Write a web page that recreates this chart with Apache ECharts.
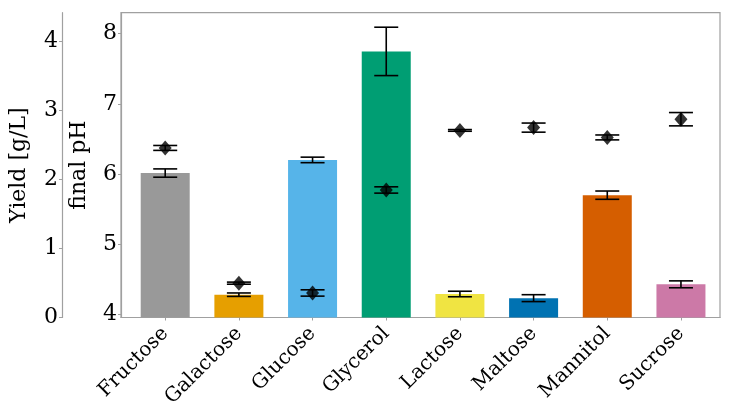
<!DOCTYPE html>
<html><head><meta charset="utf-8">
<script src="https://cdn.jsdelivr.net/npm/echarts@6/dist/echarts.min.js"></script>
<style>html,body{margin:0;padding:0;background:#fff}#c{width:731px;height:420px}</style>
</head><body><div id="c"></div>
<script>
var categories = ['Fructose','Galactose','Glucose','Glycerol','Lactose','Maltose','Mannitol','Sucrose'];
var barColors = ['#999999','#E69F00','#56B4E9','#009E73','#F0E442','#0072B2','#D55E00','#CC79A7'];
var yieldMean = [2.09, 0.33, 2.28, 3.85, 0.34, 0.28, 1.77, 0.48];
var yieldErr  = [0.06, 0.025, 0.04, 0.35, 0.04, 0.05, 0.06, 0.05];
var phMean = [6.37, 4.44, 4.30, 5.77, 6.62, 6.66, 6.52, 6.78];
var phErr  = [0.035, 0.015, 0.045, 0.045, 0.012, 0.065, 0.035, 0.095];
var yieldTicks = [0, 1, 2, 3, 4];
var phTicks = [4, 5, 6, 7, 8];

var FONT = 'DejaVu Serif';
var chart = echarts.init(document.getElementById('c'));

var pos = categories.map(function(c, i){ return i + 1; });
var barData = yieldMean.map(function(v, i){ return {value:[pos[i], v], itemStyle:{color:barColors[i]}}; });
var barErrData = yieldMean.map(function(v, i){ return [pos[i], v - yieldErr[i], v + yieldErr[i]]; });
var phData = phMean.map(function(v, i){ return [pos[i], v]; });
var phErrData = phMean.map(function(v, i){ return [pos[i], v - phErr[i], v + phErr[i]]; });

function errRender(params, api){
  var x = api.value(0), lo = api.value(1), hi = api.value(2);
  var pLo = api.coord([x, lo]), pHi = api.coord([x, hi]);
  var hw = 12;
  var st = {stroke:'#000', lineWidth:1.6};
  return {type:'group', children:[
    {type:'line', shape:{x1:pLo[0], y1:pLo[1], x2:pHi[0], y2:pHi[1]}, style:st},
    {type:'line', shape:{x1:pLo[0]-hw, y1:pLo[1], x2:pLo[0]+hw, y2:pLo[1]}, style:st},
    {type:'line', shape:{x1:pHi[0]-hw, y1:pHi[1], x2:pHi[0]+hw, y2:pHi[1]}, style:st}
  ]};
}

var axisGray = '#a0a0a0';
chart.setOption({
  animation:false,
  grid:{left:119, right:11, top:12.7, bottom:102.5, show:true, borderColor:axisGray, borderWidth:1.2, containLabel:false},
  xAxis:{type:'value', min:0.4, max:8.53,
    axisLine:{show:true, lineStyle:{color:axisGray, width:1.2}},
    splitLine:{show:false},
    axisTick:{show:true, length:3, lineStyle:{color:axisGray}, customValues:pos},
    axisLabel:{customValues:pos, rotate:45, margin:13, color:'#000', fontFamily:FONT, fontSize:20,
      formatter:function(v){ return categories[Math.round(v)-1] || ''; }}
  },
  yAxis:[
    {type:'value', min:0, max:4.41, position:'left', offset:59,
      name:'Yield [g/L]', nameLocation:'middle', nameGap:32, nameRotate:90,
      nameTextStyle:{color:'#000', fontFamily:FONT, fontSize:22},
      axisLine:{show:true, lineStyle:{color:axisGray, width:1.2}},
      splitLine:{show:false},
      axisTick:{show:true, length:3, lineStyle:{color:axisGray}, customValues:yieldTicks},
      axisLabel:{customValues:yieldTicks, margin:4, color:'#000', fontFamily:FONT, fontSize:22}
    },
    {type:'value', min:3.95, max:8.3, position:'left', offset:0,
      name:'final pH', nameLocation:'middle', nameGap:31, nameRotate:90,
      nameTextStyle:{color:'#000', fontFamily:FONT, fontSize:22},
      axisLine:{show:true, lineStyle:{color:axisGray, width:1.2}},
      splitLine:{show:false},
      axisTick:{show:true, length:3, lineStyle:{color:axisGray}, customValues:phTicks},
      axisLabel:{customValues:phTicks, margin:4, color:'#000', fontFamily:FONT, fontSize:22}
    }
  ],
  series:[
    {type:'bar', xAxisIndex:0, yAxisIndex:0, barWidth:49, data:barData, z:2},
    {type:'custom', xAxisIndex:0, yAxisIndex:0, renderItem:errRender, data:barErrData, z:3},
    {type:'custom', xAxisIndex:0, yAxisIndex:1, renderItem:errRender, data:phErrData, z:4},
    {type:'scatter', xAxisIndex:0, yAxisIndex:1, symbol:'diamond', symbolSize:[13,15], itemStyle:{color:'#000'}, data:phData, z:5}
  ]
});
</script></body></html>
